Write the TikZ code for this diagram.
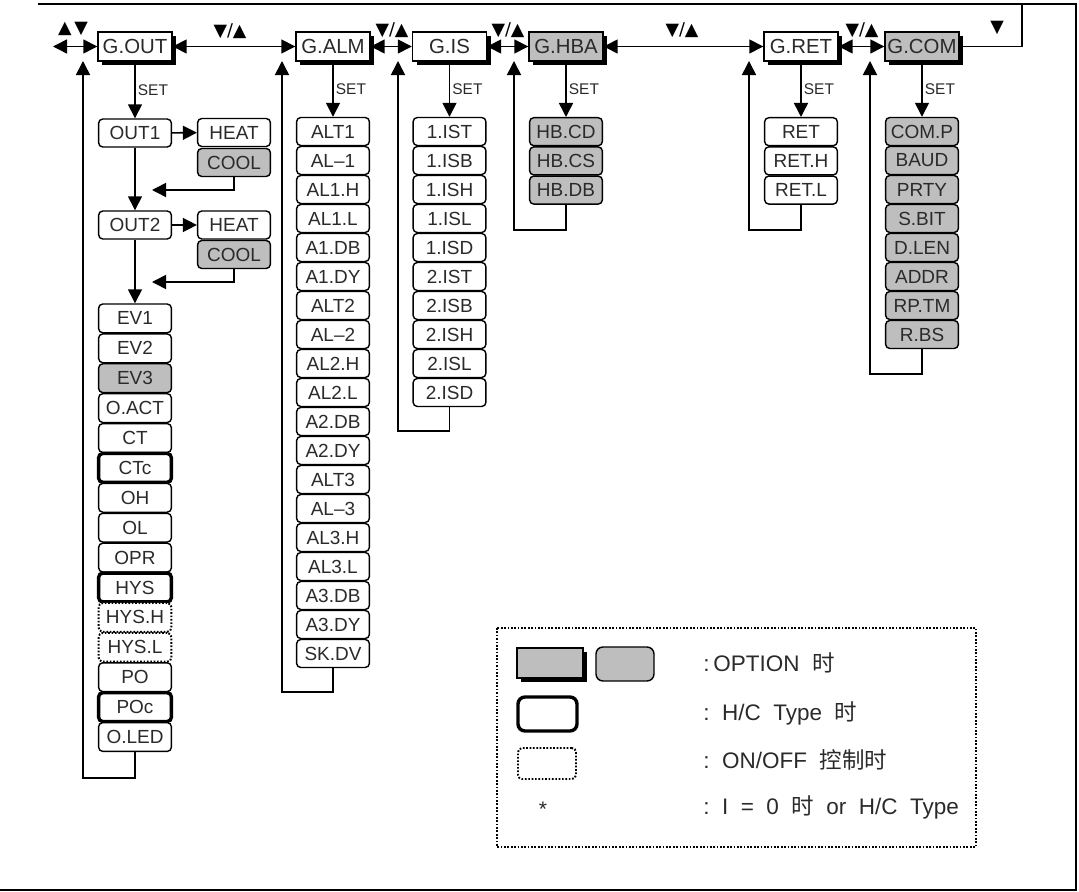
\documentclass[tikz,border=0pt]{standalone}
\usepackage{fontspec}
\setmainfont{Liberation Sans}
\newfontfamily\cjk{Noto Sans CJK SC}
\newfontfamily\symf{DejaVu Sans}
\usepackage{tikz}
\usetikzlibrary{
  arrows.meta,
  positioning,
  shadows,
  calc
}
\definecolor{mnOpt}{HTML}{BEBEBE}
\definecolor{mnText}{HTML}{2A2A2A}
\tikzset{
  mnitem/.style={
    draw, rounded corners=3pt, line width=1pt, fill=white,
    minimum width=1.82cm, minimum height=0.7cm, inner sep=0pt,
    font=\fontsize{13.5}{15}\selectfont, text=mnText
  },
  mnopt/.style={mnitem, fill=mnOpt},
  mnhc/.style={mnitem, line width=2.4pt},
  mnonoff/.style={mnitem, line width=1.4pt, dash pattern=on 1.2pt off 1.2pt},
  mngroup/.style={
    draw, line width=1pt, fill=white, minimum width=1.85cm, minimum height=0.72cm,
    inner sep=0pt, font=\fontsize{14.5}{16}\selectfont, text=mnText,
    drop shadow={shadow xshift=0.11cm, shadow yshift=-0.11cm, fill=black, opacity=1}
  },
  mngroupopt/.style={mngroup, fill=mnOpt},
  mnflow/.style={-{Triangle[length=3.5mm, width=3.5mm]}, line width=1.1pt},
  mnboth/.style={{Triangle[length=3.5mm, width=3.5mm]}-{Triangle[length=3.5mm, width=3.5mm]}, line width=1.1pt},
  mnline/.style={line width=1.1pt},
  setlbl/.style={font=\fontsize{11}{13}\selectfont, text=mnText, anchor=west, inner sep=1.5pt},
  keylbl/.style={font=\symf\fontsize{12.5}{14}\selectfont, inner sep=0pt},
  legtxt/.style={font=\fontsize{16}{18}\selectfont, text=mnText, anchor=west, inner sep=0pt}
}

\begin{document}
\begin{tikzpicture}[x=0.025cm, y=-0.025cm]
  \useasboundingbox (0,0) rectangle (1079,892);
  % page frame
  \draw[line width=1.3pt] (1022,4) -- (1076,4) -- (1076,890) -- (0,890);

  % group row
  \node[mngroup] (gout) at (135,46.5) {G.OUT};
  \node[mngroup] (galm) at (333,46.5) {G.ALM};
  \node[mngroup] (gis) at (449.5,46.5) {G.IS};
  \node[mngroupopt] (ghba) at (566,46.5) {G.HBA};
  \node[mngroup] (gret) at (801,46.5) {G.RET};
  \node[mngroupopt] (gcom) at (922,46.5) {G.COM};
  \coordinate (lin) at (53,46.5);
  \draw[mnboth] (lin) -- (gout);
  \draw[mnboth] (gout) -- (galm);
  \draw[mnboth] (galm) -- (gis);
  \draw[mnboth] (gis) -- (ghba);
  \draw[mnboth] (ghba) -- (gret);
  \draw[mnboth] (gret) -- (gcom);
  \coordinate (tr) at (1022,4);
  \coordinate (tl) at (38,4);
  \draw[mnline] (gcom.east) -- (gcom.east -| tr) -- (tr) -- (tl);
  \node[keylbl] (k0) at (73,29) {▲\,▼};
  \node[keylbl] (k1) at (230,31) {▼/▲};
  \node[keylbl] (k2) at (392,30) {▼/▲};
  \node[keylbl] (k3) at (508,30) {▼/▲};
  \node[keylbl] (k4) at (682,30) {▼/▲};
  \node[keylbl] (k5) at (862,30) {▼/▲};
  \node[keylbl] (k6) at (997,28) {▼};

  % output group
  \node[mnitem] (out1) at (135,133) {OUT1};
  \node[mnitem] (heat1) at (234,132.5) {HEAT};
  \node[mnopt] (cool1) at (234,162.5) {COOL};
  \node[mnitem] (out2) at (135,225) {OUT2};
  \node[mnitem] (heat2) at (234,225) {HEAT};
  \node[mnopt] (cool2) at (234,254.5) {COOL};
  \foreach \t/\s [count=\k] in {EV1/mnitem, EV2/mnitem, EV3/mnopt, O.ACT/mnitem, CT/mnitem,
      CTc/mnhc, OH/mnitem, OL/mnitem, OPR/mnitem, HYS/mnhc, HYS.H/mnonoff, HYS.L/mnonoff,
      PO/mnitem, POc/mnhc, O.LED/mnitem}
    \node[\s, minimum height=0.72cm] (o\k) at (135,288.5+29.9*\k) {\t};
  \draw[mnflow] (gout) -- (out1) node[midway, setlbl] {SET};
  \draw[mnflow] (out1) -- (heat1);
  \draw[mnflow] (out1) -- (out2);
  \coordinate (c1end) at (152,190);
  \draw[mnflow] (cool1.south) |- (c1end);
  \draw[mnflow] (out2) -- (heat2);
  \draw[mnflow] (out2) -- (o1);
  \coordinate (c2end) at (152,282);
  \draw[mnflow] (cool2.south) |- (c2end);
  \coordinate (ret0) at (83,61);
  \draw[mnflow] (o15.south) -- ++(0,26) -| (ret0);

  % alarm group
  \foreach \t [count=\k] in {ALT1, AL--1, AL1.H, AL1.L, A1.DB, A1.DY, ALT2, AL--2, AL2.H, AL2.L,
      A2.DB, A2.DY, ALT3, AL--3, AL3.H, AL3.L, A3.DB, A3.DY, SK.DV}
    \node[mnitem] (a\k) at (333,102.5+29*\k) {\t};
  \draw[mnflow] (galm) -- (a1) node[midway, setlbl] {SET};
  \coordinate (ret1) at (282,61);
  \draw[mnflow] (a19.south) -- ++(0,24) -| (ret1);

  % input group
  \foreach \t [count=\k] in {1.IST, 1.ISB, 1.ISH, 1.ISL, 1.ISD, 2.IST, 2.ISB, 2.ISH, 2.ISL, 2.ISD}
    \node[mnitem] (i\k) at (449.5,102.5+29*\k) {\t};
  \draw[mnflow] (gis) -- (i1) node[midway, setlbl] {SET};
  \coordinate (ret2) at (398,61);
  \draw[mnflow] (i10.south) -- ++(0,24) -| (ret2);

  % heater break group
  \foreach \t [count=\k] in {HB.CD, HB.CS, HB.DB}
    \node[mnopt] (h\k) at (566,102.5+29.2*\k) {\t};
  \draw[mnflow] (ghba) -- (h1) node[midway, setlbl] {SET};
  \coordinate (ret3) at (514,61);
  \draw[mnflow] (h3.south) -- ++(0,25) -| (ret3);

  % retransmission group
  \foreach \t [count=\k] in {RET, RET.H, RET.L}
    \node[mnitem] (r\k) at (801,102.5+29.2*\k) {\t};
  \draw[mnflow] (gret) -- (r1) node[midway, setlbl] {SET};
  \coordinate (ret4) at (749,61);
  \draw[mnflow] (r3.south) -- ++(0,25) -| (ret4);

  % communication group
  \foreach \t [count=\k] in {COM.P, BAUD, PRTY, S.BIT, D.LEN, ADDR, RP.TM, R.BS}
    \node[mnopt] (c\k) at (922,102.5+29*\k) {\t};
  \draw[mnflow] (gcom) -- (c1) node[midway, setlbl] {SET};
  \coordinate (ret5) at (870,61);
  \draw[mnflow] (c8.south) -- ++(0,25) -| (ret5);

  % legend
  \draw[line width=1.5pt, dash pattern=on 1.2pt off 1.2pt] (497,628) rectangle (976,847);
  \node[mngroupopt, minimum width=1.65cm, minimum height=0.75cm] (lgA) at (550,663) {};
  \node[mnopt, rounded corners=5pt, minimum width=1.45cm, minimum height=0.85cm] (lgB) at (625,664) {};
  \node[mnhc, rounded corners=5pt, minimum width=1.475cm, minimum height=0.85cm] (lgC) at (547.5,714) {};
  \node[mnonoff, minimum width=1.45cm, minimum height=0.775cm] (lgD) at (547,763.5) {};
  \node[font=\fontsize{15}{17}\selectfont, text=mnText] (lgE) at (543,809) {*};
  \node[legtxt] (ltA) at (703,663) {:\,OPTION~~{\cjk 时}};
  \node[legtxt] (ltB) at (703,713) {:~~H/C~~Type~~{\cjk 时}};
  \node[legtxt] (ltC) at (703,760) {:~~ON/OFF~~{\cjk 控制时}};
  \node[legtxt] (ltD) at (703,807) {:~~I~~=~~0~~{\cjk 时}~~or~~H/C~~Type};
\end{tikzpicture}
\end{document}
